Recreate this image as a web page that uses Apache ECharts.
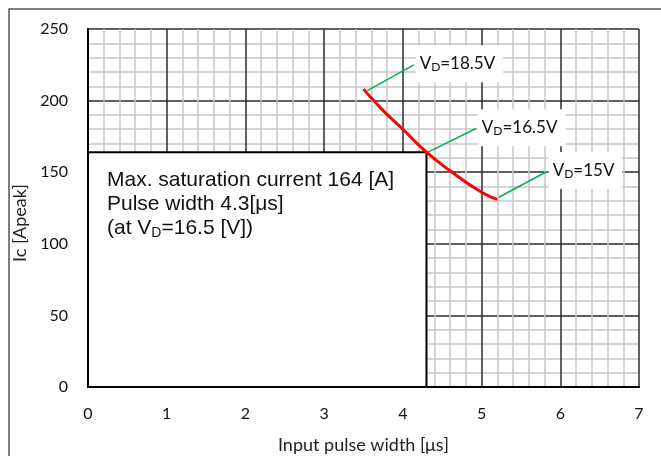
<!DOCTYPE html>
<html><head><meta charset="utf-8">
<script src="https://cdn.jsdelivr.net/npm/echarts@6/dist/echarts.min.js"></script>
<style>html,body{margin:0;padding:0;background:#fff}#c{width:661px;height:456px}</style>
</head><body><div id="c"></div>
<script>
// Data
const pulseWidth = [3.5, 3.75, 4.0, 4.3, 4.6, 5.0, 5.2];
const icPeak     = [208, 193, 180, 164, 151, 136, 131];
const satPulseWidth = 4.3;
const satCurrent = 164;
const vdValues = ['18.5', '16.5', '15'];
const leaderStart = [[3.55, 207], [4.32, 164], [5.22, 132.5]];
const leaderEnd   = [[4.14, 225], [4.93, 180.5], [5.83, 150.5]];
const xTickLabels = ['0','1','2','3','4','5','6','7'];
const yTickLabels = ['0','50','100','150','200','250'];

const calibri = 'Lato, "Open Sans", sans-serif';
const arial = '"Liberation Sans", Arial, sans-serif';

const chart = echarts.init(document.getElementById('c'), null, {renderer: 'canvas'});

const majorLine = {show: true, lineStyle: {color: '#2b2b2b', width: 1.5}};
const minorLine = {show: true, lineStyle: {color: '#c6c6c6', width: 1.5}};

const leaderData = vdValues.map((v, i) => [
  {coord: leaderStart[i]},
  {coord: leaderEnd[i],
   label: {formatter: '{v|V}{sub|D}{v|=' + v + 'V}'}}
]);

chart.setOption({
  animation: false,
  graphic: [{
    type: 'rect', shape: {x: 9, y: 9, width: 700, height: 500},
    style: {fill: 'none', stroke: '#555', lineWidth: 1.5}, z: 100, silent: true
  }],
  grid: {left: 88, right: 22, top: 29, bottom: 69, containLabel: false, outerBoundsMode: 'none'},
  xAxis: [{
    type: 'value', min: 0, max: 7, interval: 1,
    name: 'Input pulse width [μs]', nameLocation: 'middle', nameGap: 49,
    nameTextStyle: {fontFamily: calibri, fontSize: 18, color: '#222'},
    axisLine: {show: true, lineStyle: {color: '#000', width: 2}},
    axisTick: {show: false},
    axisLabel: {margin: 19, fontFamily: calibri, fontSize: 16, color: '#111',
      formatter: (val) => xTickLabels[Math.round(val)]},
    splitLine: majorLine,
    minorTick: {show: false, splitNumber: 5},
    minorSplitLine: minorLine
  }, {
    type: 'value', min: 0, max: 7, position: 'top',
    axisLine: {show: true, lineStyle: {color: '#000', width: 2}},
    axisTick: {show: false}, axisLabel: {show: false}, splitLine: {show: false}
  }],
  yAxis: [{
    type: 'value', min: 0, max: 250, interval: 50,
    name: 'Ic [Apeak]', nameLocation: 'middle', nameGap: 42,
    nameTextStyle: {fontFamily: calibri, fontSize: 18, color: '#222', padding: [0, 30, 0, 0]},
    axisLine: {show: true, lineStyle: {color: '#000', width: 2}},
    axisTick: {show: false},
    axisLabel: {margin: 20, fontFamily: calibri, fontSize: 16, color: '#111',
      formatter: (val) => yTickLabels[Math.round(val / 50)]},
    splitLine: majorLine,
    minorTick: {show: false, splitNumber: 5},
    minorSplitLine: minorLine
  }, {
    type: 'value', min: 0, max: 250, position: 'right',
    axisLine: {show: true, lineStyle: {color: '#000', width: 2}},
    axisTick: {show: false}, axisLabel: {show: false}, splitLine: {show: false}
  }],
  series: [{
    type: 'line',
    data: pulseWidth.map((x, i) => [x, icPeak[i]]),
    smooth: true, symbol: 'none',
    lineStyle: {color: '#ff0000', width: 3},
    z: 5,
    markArea: {
      silent: true,
      itemStyle: {color: '#fff', borderColor: '#000', borderWidth: 2},
      label: {
        show: true, position: 'insideTopLeft', distance: 0,
        padding: [17, 0, 0, 20],
        fontFamily: arial, fontSize: 21, color: '#111', lineHeight: 24,
        formatter: '{t|Max. saturation current ' + satCurrent + ' [A]}\n{t|Pulse width ' + satPulseWidth + '[μs]}\n{t|(at V}{s|D}{t|=16.5 [V])}',
        rich: {
          t: {fontFamily: arial, fontSize: 21, color: '#111', lineHeight: 24},
          s: {fontFamily: arial, fontSize: 14, color: '#111', lineHeight: 24, padding: [9, 0, 0, 0]}
        }
      },
      data: [[{coord: [0, 0]}, {coord: [satPulseWidth, satCurrent]}]]
    },
    markLine: {
      silent: true, symbol: 'none', animation: false,
      lineStyle: {color: '#00b050', width: 1.5, type: 'solid'},
      label: {
        show: true, position: 'end', align: 'left', verticalAlign: 'middle',
        distance: 2, backgroundColor: '#fff', padding: [9, 8, 9, 4],
        rich: {
          v: {fontFamily: calibri, fontSize: 17, color: '#111'},
          sub: {fontFamily: calibri, fontSize: 12, color: '#111', padding: [7, 0, 0, 0]}
        }
      },
      data: leaderData
    }
  }]
});
</script></body></html>
